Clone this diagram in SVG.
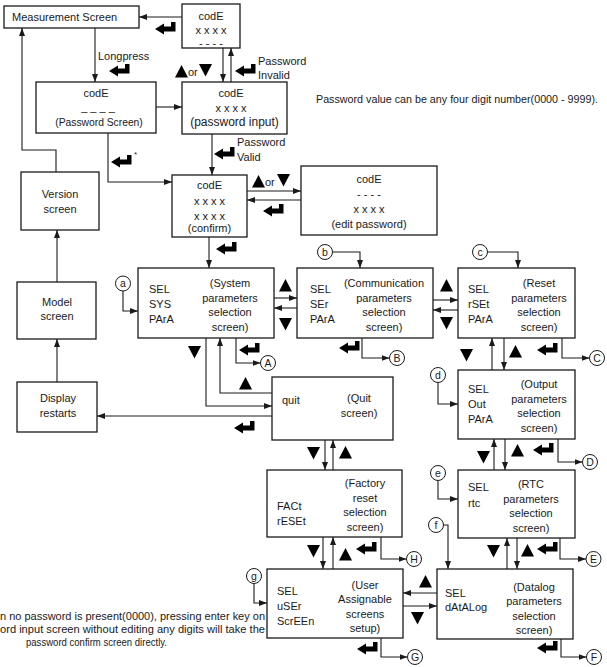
<svg xmlns="http://www.w3.org/2000/svg" xmlns:xlink="http://www.w3.org/1999/xlink" width="607" height="667" viewBox="0 0 607 667">
<style>
.box{fill:#fff;stroke:#1a1a1a;stroke-width:1.3}
.ln{fill:none;stroke:#1a1a1a;stroke-width:1.1;marker-end:url(#ah)}
.pl{fill:none;stroke:#1a1a1a;stroke-width:1.1}
.cir{fill:#fff;stroke:#1a1a1a;stroke-width:1}
text{font-family:"Liberation Sans",Arial,sans-serif;font-size:11px;fill:#1a1a1a}
.c{text-anchor:middle}
.cl{font-size:10.5px;text-anchor:middle}
.note{font-size:10px}
</style>
<defs>
<marker id="ah" markerWidth="8" markerHeight="6" refX="8" refY="3" orient="auto" markerUnits="userSpaceOnUse"><path d="M0,0 L8,3 L0,6 Z" fill="#1a1a1a"/></marker>
<path id="ent" d="M0,7 L9,1.5 L9,4.5 L16,4.5 L16,0 L20.5,0 L20.5,9.5 L9,9.5 L9,12.5 Z" fill="#000"/>
<path id="up" d="M0,12.5 L6.5,0 L13,12.5 Z" fill="#000"/>
<path id="dn" d="M0,0 L13,0 L6.5,12.5 Z" fill="#000"/>
</defs>

<g id="connectors">
<path class="ln" d="M182,17 H139"/>
<path class="ln" d="M95,28 V82"/>
<path class="ln" d="M156,107 H182"/>
<path class="ln" d="M223,48 V82"/>
<path class="ln" d="M231,82 V48"/>
<path class="ln" d="M212,134 V175"/>
<path class="ln" d="M108,133 V182 H172"/>
<path class="ln" d="M56,172 V150 H22 V28"/>
<path class="ln" d="M57,282 V230"/>
<path class="ln" d="M57,382 V339"/>
<path class="ln" d="M247,191 H301"/>
<path class="ln" d="M301,200 H247"/>
<path class="ln" d="M209,237 V268"/>
<path class="ln" d="M123,291 V311 H138"/>
<path class="ln" d="M274,298 H297"/>
<path class="ln" d="M297,308 H274"/>
<path class="ln" d="M433,300 H458"/>
<path class="ln" d="M458,310 H433"/>
<path class="ln" d="M332.5,252 H360 V268"/>
<path class="ln" d="M487.5,252 H518 V268"/>
<path class="ln" d="M236,338 V363 H260.5"/>
<path class="ln" d="M362,338 V358 H389.5"/>
<path class="ln" d="M562,338 V358 H589.5"/>
<path class="ln" d="M492,370 V338"/>
<path class="ln" d="M504,338 V370"/>
<path class="ln" d="M438,382.5 V404 H458"/>
<path class="ln" d="M206,338 V406 H272"/>
<path class="ln" d="M272,393 H220 V338"/>
<path class="ln" d="M272,416 H97"/>
<path class="ln" d="M325,440 V470"/>
<path class="ln" d="M333,470 V440"/>
<path class="ln" d="M494,470 V439"/>
<path class="ln" d="M505,439 V470"/>
<path class="ln" d="M558,439 V462 H582.5"/>
<path class="ln" d="M438,480.5 V499 H458"/>
<path class="ln" d="M443.5,525 H448 V569"/>
<path class="ln" d="M507,569 V538"/>
<path class="ln" d="M517,538 V569"/>
<path class="ln" d="M560,538 V559 H586"/>
<path class="ln" d="M323,537 V569"/>
<path class="ln" d="M333,569 V537"/>
<path class="ln" d="M381,537 V559 H406.5"/>
<path class="ln" d="M437,593 H403"/>
<path class="ln" d="M403,606 H437"/>
<path class="ln" d="M254,584 V603 H267"/>
<path class="ln" d="M381,638 V657 H407.5"/>
<path class="ln" d="M561,639 V657 H586.5"/>
</g>

<g id="connector-labels">
<use href="#ent" x="155" y="22"/>
<text x="98" y="60">Longpress</text>
<use href="#ent" x="109" y="64"/>
<use href="#up" x="175" y="65"/>
<text x="188" y="76">or</text>
<use href="#dn" x="199" y="64"/>
<use href="#ent" x="235" y="64"/>
<text x="258" y="65">Password</text>
<text x="258" y="79">Invalid</text>
<use href="#ent" x="111" y="155"/>
<text x="134" y="157" style="font-size:8px">*</text>
<use href="#ent" x="214" y="147"/>
<text x="237" y="146">Password</text>
<text x="237" y="161">Valid</text>
<use href="#up" x="252" y="175"/>
<text x="265" y="186">or</text>
<use href="#dn" x="277" y="174"/>
<use href="#ent" x="263" y="204"/>
<use href="#ent" x="216" y="242"/>
<use href="#up" x="279" y="279"/>
<use href="#dn" x="279" y="318"/>
<use href="#up" x="440" y="279"/>
<use href="#dn" x="440" y="317"/>
<use href="#ent" x="239" y="343"/>
<use href="#ent" x="339" y="341"/>
<use href="#ent" x="537" y="343"/>
<use href="#dn" x="188" y="346"/>
<use href="#up" x="239" y="377"/>
<use href="#dn" x="460" y="349"/>
<use href="#up" x="509" y="345"/>
<use href="#ent" x="234" y="421"/>
<use href="#dn" x="307" y="447"/>
<use href="#up" x="339" y="446"/>
<use href="#dn" x="477" y="451"/>
<use href="#up" x="511" y="444"/>
<use href="#ent" x="533" y="443"/>
<use href="#dn" x="307" y="545"/>
<use href="#up" x="339" y="548"/>
<use href="#ent" x="356" y="542"/>
<use href="#dn" x="487" y="545"/>
<use href="#up" x="521" y="544"/>
<use href="#ent" x="537" y="542"/>
<use href="#up" x="419" y="575"/>
<use href="#dn" x="411" y="612"/>
<use href="#ent" x="357" y="642"/>
<use href="#ent" x="537" y="641"/>
</g>

<g id="measurement">
<rect class="box" x="4" y="6" width="135" height="22"/>
<text x="12" y="21">Measurement Screen</text>
</g>
<g id="code-invalid">
<rect class="box" x="182" y="4" width="58" height="44"/>
<text class="c" x="211" y="20">codE</text>
<text class="c" x="211" y="34">x x x x</text>
<text class="c" x="211" y="46.5">- - - -</text>
</g>
<g id="password-screen">
<rect class="box" x="36" y="82" width="120" height="51"/>
<text class="c" x="96" y="97">codE</text>
<text class="c" x="98" y="111">_ _ _ _</text>
<text class="c" x="99" y="126" style="font-size:10.3px">(Password Screen)</text>
</g>
<g id="password-input">
<rect class="box" x="182" y="82" width="105" height="52"/>
<text class="c" x="231" y="97">codE</text>
<text class="c" x="231" y="112">x x x x</text>
<text class="c" x="234.5" y="126" style="font-size:12px">(password input)</text>
</g>
<g id="confirm">
<rect class="box" x="172" y="175" width="75" height="62"/>
<text class="c" x="209.5" y="188.5">codE</text>
<text class="c" x="209.5" y="205">x x x x</text>
<text class="c" x="209.5" y="220">x x x x</text>
<text class="c" x="209.5" y="232">(confirm)</text>
</g>
<g id="edit-password">
<rect class="box" x="301" y="166" width="136" height="69"/>
<text class="c" x="369" y="183">codE</text>
<text class="c" x="369" y="197.5">- - - -</text>
<text class="c" x="369" y="213">x x x x</text>
<text class="c" x="369" y="227.5">(edit password)</text>
</g>
<g id="password-note">
<text class="note" x="316" y="103" textLength="282" lengthAdjust="spacingAndGlyphs">Password value can be any four digit number(0000 - 9999).</text>
</g>
<g id="version">
<rect class="box" x="21" y="172" width="78" height="58"/>
<text class="c" x="60" y="198">Version</text>
<text class="c" x="60" y="213">screen</text>
</g>
<g id="model">
<rect class="box" x="17" y="282" width="79" height="57"/>
<text class="c" x="57" y="306">Model</text>
<text class="c" x="57" y="320">screen</text>
</g>
<g id="display">
<rect class="box" x="17" y="382" width="80" height="50"/>
<text class="c" x="58" y="402">Display</text>
<text class="c" x="58" y="417">restarts</text>
</g>
<g id="sys">
<rect class="box" x="138" y="268" width="136" height="70"/>
<text x="149" y="293">SEL</text>
<text x="149" y="308">SYS</text>
<text x="149" y="323">PArA</text>
<text class="c" x="230" y="287">(System</text>
<text class="c" x="230" y="301.5">parameters</text>
<text class="c" x="230" y="316">selection</text>
<text class="c" x="230" y="330.5">screen)</text>
</g>
<g id="ser">
<rect class="box" x="297" y="268" width="136" height="70"/>
<text x="310" y="293">SEL</text>
<text x="310" y="308">SEr</text>
<text x="310" y="323">PArA</text>
<text class="c" x="384" y="287">(Communication</text>
<text class="c" x="384" y="301.5">parameters</text>
<text class="c" x="384" y="316">selection</text>
<text class="c" x="384" y="330.5">screen)</text>
</g>
<g id="rset">
<rect class="box" x="458" y="268" width="117" height="70"/>
<text x="468" y="293">SEL</text>
<text x="468" y="308">rSEt</text>
<text x="468" y="323">PArA</text>
<text class="c" x="539" y="287">(Reset</text>
<text class="c" x="539" y="301.5">parameters</text>
<text class="c" x="539" y="316">selection</text>
<text class="c" x="539" y="330.5">screen)</text>
</g>
<g id="output">
<rect class="box" x="458" y="370" width="117" height="69"/>
<text x="468" y="393">SEL</text>
<text x="468" y="408">Out</text>
<text x="468" y="423">PArA</text>
<text class="c" x="539" y="388">(Output</text>
<text class="c" x="539" y="402.5">parameters</text>
<text class="c" x="539" y="417">selection</text>
<text class="c" x="539" y="431.5">screen)</text>
</g>
<g id="quit">
<rect class="box" x="272" y="377" width="121" height="63"/>
<text x="282" y="404">quit</text>
<text class="c" x="359" y="402">(Quit</text>
<text class="c" x="359" y="417">screen)</text>
</g>
<g id="factory">
<rect class="box" x="267" y="470" width="135" height="67"/>
<text x="277" y="510">FACt</text>
<text x="277" y="525">rESEt</text>
<text class="c" x="365" y="487">(Factory</text>
<text class="c" x="365" y="501.5">reset</text>
<text class="c" x="365" y="516">selection</text>
<text class="c" x="365" y="531">screen)</text>
</g>
<g id="rtc">
<rect class="box" x="458" y="470" width="117" height="68"/>
<text x="468" y="491">SEL</text>
<text x="468" y="507">rtc</text>
<text class="c" x="531" y="488">(RTC</text>
<text class="c" x="531" y="502.5">parameters</text>
<text class="c" x="531" y="517">selection</text>
<text class="c" x="531" y="532">screen)</text>
</g>
<g id="user">
<rect class="box" x="267" y="569" width="136" height="69"/>
<text x="277" y="595">SEL</text>
<text x="277" y="609.5">uSEr</text>
<text x="277" y="624.5">ScrEEn</text>
<text class="c" x="365" y="589">(User</text>
<text class="c" x="365" y="603">Assignable</text>
<text class="c" x="365" y="618">screens</text>
<text class="c" x="365" y="632">setup)</text>
</g>
<g id="datalog">
<rect class="box" x="437" y="569" width="136" height="70"/>
<text x="445" y="597">SEL</text>
<text x="445" y="611">dAtALog</text>
<text class="c" x="534" y="591">(Datalog</text>
<text class="c" x="534" y="605">parameters</text>
<text class="c" x="534" y="619.5">selection</text>
<text class="c" x="534" y="634">screen)</text>
</g>
<g id="bottom-note">
<text class="note" x="0" y="620" textLength="265" lengthAdjust="spacingAndGlyphs">n no password is present(0000), pressing enter key on</text>
<text class="note" x="0" y="633" textLength="265" lengthAdjust="spacingAndGlyphs">ord input screen without editing any digits will take the</text>
<text class="note" x="26" y="646" textLength="141" lengthAdjust="spacingAndGlyphs">password confirm screen directly.</text>
</g>

<g id="circle-a"><circle class="cir" cx="123" cy="283.5" r="7.5"/><text class="cl" x="123" y="287.3">a</text></g>
<g id="circle-b"><circle class="cir" cx="325" cy="252" r="7.5"/><text class="cl" x="325" y="255.8">b</text></g>
<g id="circle-c"><circle class="cir" cx="480" cy="252" r="7.5"/><text class="cl" x="480" y="255.8">c</text></g>
<g id="circle-d"><circle class="cir" cx="438" cy="375" r="7.5"/><text class="cl" x="438" y="378.8">d</text></g>
<g id="circle-e"><circle class="cir" cx="438" cy="473" r="7.5"/><text class="cl" x="438" y="476.8">e</text></g>
<g id="circle-f"><circle class="cir" cx="436" cy="525" r="7.5"/><text class="cl" x="436" y="528.8">f</text></g>
<g id="circle-g"><circle class="cir" cx="254" cy="576" r="7.5"/><text class="cl" x="254" y="579.8">g</text></g>
<g id="circle-A"><circle class="cir" cx="268" cy="363" r="7.5"/><text class="cl" x="268" y="366.8">A</text></g>
<g id="circle-B"><circle class="cir" cx="397" cy="358" r="7.5"/><text class="cl" x="397" y="361.8">B</text></g>
<g id="circle-C"><circle class="cir" cx="597" cy="358" r="7.5"/><text class="cl" x="597" y="361.8">C</text></g>
<g id="circle-D"><circle class="cir" cx="590" cy="462" r="7.5"/><text class="cl" x="590" y="465.8">D</text></g>
<g id="circle-E"><circle class="cir" cx="593.5" cy="559" r="7.5"/><text class="cl" x="593.5" y="562.8">E</text></g>
<g id="circle-F"><circle class="cir" cx="594" cy="657" r="7.5"/><text class="cl" x="594" y="660.8">F</text></g>
<g id="circle-G"><circle class="cir" cx="415" cy="657" r="7.5"/><text class="cl" x="415" y="660.8">G</text></g>
<g id="circle-H"><circle class="cir" cx="414" cy="559" r="7.5"/><text class="cl" x="414" y="562.8">H</text></g>
</svg>
